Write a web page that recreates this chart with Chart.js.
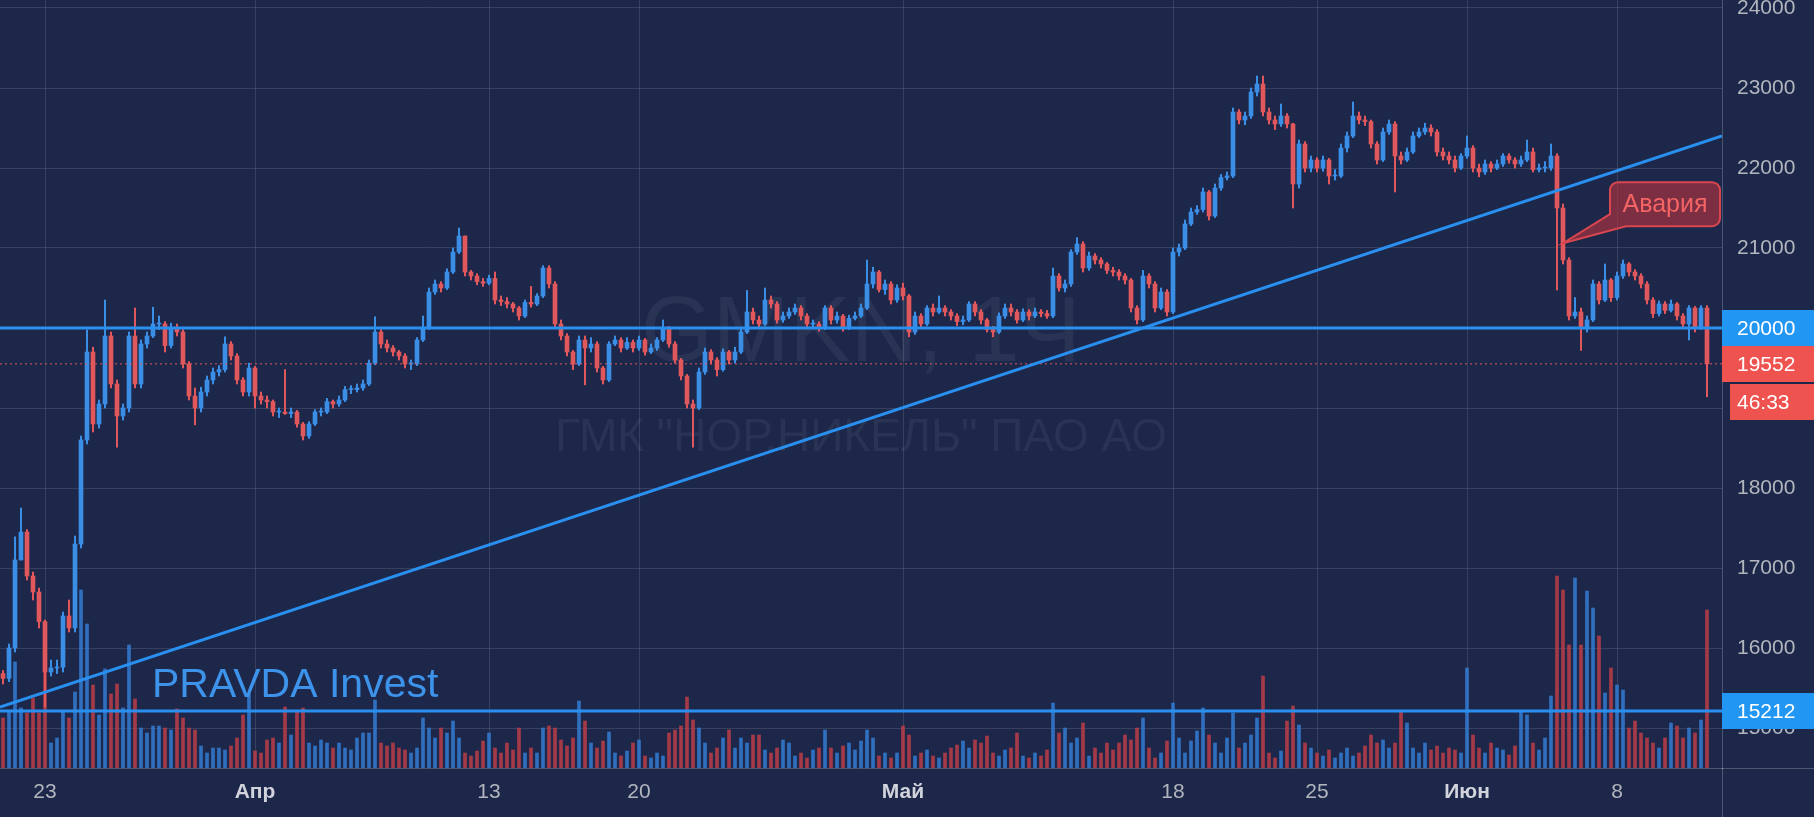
<!DOCTYPE html>
<html>
<head>
<meta charset="utf-8">
<title>GMKN, 1Ч</title>
<script src="https://cdn.jsdelivr.net/npm/chart.js@4.4.1/dist/chart.umd.min.js"></script>
<style>
  html, body { margin: 0; padding: 0; background: #1c2749; }
  canvas { display: block; }
</style>
</head>
<body>
<canvas id="gmknChart" width="1814" height="817"></canvas>
<script>
// ---- data (hourly candles, GMKN) ----
const firstOpen = 15680;

const closes = [
  15620,16000,17100,17450,16900,16700,16330,15700,15750,15760,
  16400,16250,17300,18600,19700,18800,19050,19900,19300,18900,
  19000,19900,19300,19800,19900,20050,20050,19780,20000,19950,
  19550,19150,19000,19200,19350,19450,19480,19800,19650,19350,
  19200,19500,19150,19100,19080,18950,18950,18930,18950,18800,
  18650,18800,18950,18950,19080,19050,19100,19230,19230,19250,
  19300,19560,19950,19800,19750,19700,19650,19550,19550,19850,
  20000,20450,20550,20500,20700,20950,21150,20700,20650,20580,
  20560,20620,20350,20330,20300,20250,20150,20320,20300,20400,
  20750,20550,20050,19900,19700,19550,19850,19750,19800,19500,
  19350,19800,19850,19750,19820,19750,19850,19700,19750,19850,
  20000,19800,19600,19400,19050,19000,19450,19700,19600,19480,
  19700,19600,19700,19950,20200,20100,20050,20350,20300,20100,
  20150,20200,20250,20150,20050,20050,20000,20250,20100,20150,
  20000,20120,20150,20250,20550,20700,20480,20550,20350,20500,
  20400,19950,20150,20050,20250,20200,20250,20200,20150,20080,
  20100,20300,20200,20100,19980,19950,20150,20250,20200,20100,
  20200,20150,20200,20180,20150,20650,20500,20550,20950,21050,
  20750,20900,20850,20800,20720,20700,20650,20600,20250,20100,
  20650,20550,20250,20450,20200,20950,21000,21300,21450,21480,
  21700,21400,21750,21880,21900,22700,22600,22650,22950,23050,
  22700,22600,22550,22650,22550,21800,22300,22000,22100,22000,
  22100,21900,21900,22250,22400,22650,22600,22580,22300,22100,
  22450,22550,22150,22100,22200,22400,22450,22500,22450,22200,
  22150,22100,22000,22150,22250,22000,21950,22050,22000,22050,
  22150,22100,22050,22100,22200,21980,22000,22000,22150,21500,
  20850,20150,20200,20000,20100,20550,20350,20600,20380,20650,
  20800,20700,20650,20550,20350,20180,20300,20220,20300,20150,
  20050,20250,20000,20250,19552
];

const highs = [
  15720,16050,17390,17750,17480,16950,16750,16350,15850,15850,
  16450,16600,17400,18650,19975,19760,19100,20350,19950,19350,
  19050,19950,20250,19850,19950,20260,20150,20080,20060,20050,
  19980,19580,19250,19260,19400,19500,19530,19890,19830,19680,
  19380,19560,19520,19200,19150,19100,19000,19480,19000,18970,
  18820,18830,18980,19000,19120,19100,19150,19270,19280,19300,
  19350,19600,20140,19980,19850,19780,19720,19680,19600,19880,
  20150,20500,20600,20580,20740,21000,21250,21150,20720,20680,
  20620,20660,20700,20400,20380,20320,20270,20350,20520,20430,
  20780,20780,20580,20100,19930,19720,19900,19900,19880,19830,
  19520,19830,19900,19880,19880,19850,19900,19870,19800,19880,
  20100,20020,19830,19620,19420,19100,19500,19750,19730,19630,
  19740,19720,19760,20000,20470,20250,20150,20500,20400,20330,
  20200,20250,20300,20280,20180,20100,20080,20280,20280,20200,
  20170,20160,20200,20300,20850,20760,20720,20600,20580,20540,
  20560,20420,20200,20180,20280,20300,20400,20280,20230,20180,
  20150,20330,20330,20230,20120,20020,20190,20300,20300,20230,
  20240,20230,20250,20230,20220,20750,20680,20600,20980,21130,
  21080,20950,20930,20880,20820,20760,20730,20680,20620,20280,
  20720,20680,20580,20500,20480,21000,21050,21350,21500,21530,
  21750,21720,21800,21920,21950,22750,22730,22700,23000,23150,
  23150,22750,22650,22800,22680,22560,22350,22330,22150,22130,
  22150,22120,21980,22300,22450,22825,22700,22650,22600,22330,
  22500,22600,22580,22200,22250,22450,22500,22560,22540,22480,
  22250,22200,22150,22180,22400,22280,22050,22100,22080,22100,
  22180,22180,22130,22150,22350,22250,22050,22080,22300,22180,
  21550,20880,20380,20250,20150,20600,20580,20800,20620,20700,
  20850,20820,20730,20680,20580,20380,20340,20330,20350,20320,
  20180,20280,20270,20280,20280
];

const lows = [
  15550,15580,15950,17100,16850,16600,16250,15260,15650,15680,
  15700,16200,16200,17250,18550,18700,18750,19000,19250,18510,
  18850,18950,19250,19250,19750,19880,19980,19700,19750,19900,
  19500,19100,18790,18950,19150,19300,19400,19450,19600,19300,
  19150,19150,19000,19050,19000,18900,18880,18920,18880,18760,
  18600,18620,18780,18900,18930,19000,19020,19080,19180,19200,
  19220,19280,19540,19750,19700,19650,19600,19500,19480,19530,
  19830,19980,20420,20450,20480,20680,20930,20650,20600,20540,
  20520,20540,20300,20280,20250,20200,20100,20130,20260,20280,
  20380,20500,20000,19850,19650,19480,19530,19290,19700,19450,
  19300,19330,19780,19700,19730,19700,19720,19660,19680,19720,
  19830,19760,19560,19350,19000,18510,18980,19420,19550,19400,
  19460,19550,19560,19680,19930,20050,20000,20030,20250,20060,
  20070,20120,20170,20100,20000,19990,19960,19980,20050,20060,
  19960,19980,20100,20130,20230,20500,20450,20420,20300,20320,
  20350,19890,19920,20000,20030,20150,20180,20150,20100,20030,
  20040,20080,20150,20050,19950,19890,19930,20120,20150,20060,
  20080,20100,20130,20140,20120,20130,20460,20450,20520,20920,
  20700,20720,20800,20750,20680,20650,20600,20550,20200,20050,
  20080,20500,20200,20230,20150,20180,20900,20980,21280,21420,
  21450,21350,21380,21720,21850,21880,22550,22540,22620,22900,
  22650,22550,22480,22520,22500,21500,21750,21950,21950,21950,
  21960,21800,21850,21880,22200,22380,22550,22530,22250,22050,
  22080,22420,21700,22050,22080,22180,22380,22420,22400,22150,
  22100,22050,21950,21980,22120,21950,21890,21920,21950,21980,
  22020,22060,22000,22020,22080,21950,21950,21950,21970,20475,
  20800,20100,20120,19720,19950,20080,20300,20330,20330,20350,
  20620,20650,20600,20500,20300,20130,20150,20180,20200,20100,
  20000,19850,19950,19980,19140
];

const volumes = [
  50,56,106,60,55,70,55,106,25,30,
  56,50,76,178,144,83,53,99,74,84,
  60,123,69,40,35,42,42,40,38,59,
  50,40,38,22,15,20,20,18,22,30,
  53,74,17,15,28,30,25,61,33,56,
  60,25,22,28,25,20,25,20,18,30,
  35,35,68,25,22,25,20,18,15,20,
  50,40,30,40,35,47,30,15,12,17,
  27,35,20,15,25,18,40,15,20,15,
  40,42,40,28,22,30,67,47,25,20,
  27,36,15,12,17,25,28,12,10,15,
  12,35,38,42,71,48,40,25,15,20,
  30,38,20,30,25,33,33,18,15,20,
  28,25,12,15,10,18,20,38,20,15,
  22,25,18,27,38,30,12,15,10,15,
  42,33,12,15,18,12,10,15,20,23,
  27,20,28,25,32,15,12,18,20,35,
  12,10,15,12,18,65,35,40,25,30,
  45,12,20,15,25,18,25,33,28,40,
  50,20,10,15,27,65,30,15,27,37,
  60,33,25,15,30,55,20,25,33,50,
  92,15,10,17,47,62,43,25,20,15,
  12,18,10,15,20,12,15,22,33,25,
  28,20,25,57,45,20,15,25,18,22,
  15,20,18,15,100,33,20,15,25,20,
  18,13,22,57,53,25,18,30,72,192,
  178,123,190,123,177,160,132,75,100,83,
  78,40,47,35,30,25,20,30,45,42,
  30,40,35,48,158
];

// x axis: slot count and where the date labels sit
const slotCount = 287;
const tickIndex  = [7, 42, 81, 106, 150, 195, 219, 244, 269];
const tickLabels = ['23', 'Апр', '13', '20', 'Май', '18', '25', 'Июн', '8'];
const monthLabels = ['Апр', 'Май', 'Июн'];

// y axis
const priceTicks = [15000, 16000, 17000, 18000, 19000, 20000, 21000, 22000, 23000, 24000];
const yMin = 14500, yMax = 24100;
const volMax = 768;

// drawn levels
const levelHigh = 20000;
const levelLow = 15212;
const lastPrice = 19552;
const timerText = '46:33';
const trendFrom = 15262, trendTo = 22400;
const crashIndex = 260, crashPrice = 21060;
const brandPrice = 15390;

// colours
const BG = '#1c2749';
const GRID = 'rgba(255,255,255,0.12)';
const AXIS = 'rgba(255,255,255,0.22)';
const UP = '#3b8ee6';
const DOWN = '#e0575c';
const VOL_UP = 'rgba(50,125,210,0.85)';
const VOL_DOWN = 'rgba(188,62,72,0.85)';
const LINE = '#2a90f0';
const TICK = '#b2b5be';

Chart.defaults.font.family = "'Liberation Sans', Arial, sans-serif";

const opens = closes.map((c, i) => i === 0 ? firstOpen : closes[i - 1]);
const upFlags = closes.map((c, i) => c >= opens[i]);
const candleColors = upFlags.map(u => u ? UP : DOWN);
const volColors = upFlags.map(u => u ? VOL_UP : VOL_DOWN);

const labels = new Array(slotCount).fill('');
tickIndex.forEach((idx, k) => { labels[idx] = tickLabels[k]; });

const decorations = {
  id: 'decorations',
  beforeDraw(chart) {
    const ctx = chart.ctx;
    ctx.save();
    ctx.fillStyle = BG;
    ctx.fillRect(0, 0, chart.width, chart.height);
    ctx.restore();
  },
  beforeDatasetsDraw(chart) {
    // watermark
    const { ctx, chartArea } = chart;
    const cx = (chartArea.left + chartArea.right) / 2;
    const cy = (chartArea.top + chartArea.bottom) / 2;
    ctx.save();
    ctx.fillStyle = 'rgba(255,255,255,0.06)';
    ctx.textAlign = 'center';
    ctx.textBaseline = 'middle';
    ctx.font = "92px 'Liberation Sans', Arial, sans-serif";
    ctx.fillText('GMKN, 1Ч', cx, cy - 48);
    ctx.font = "46px 'Liberation Sans', Arial, sans-serif";
    ctx.fillText('ГМК "НОР.НИКЕЛЬ" ПАО АО', cx, cy + 54);
    ctx.restore();
  },
  afterDatasetsDraw(chart) {
    const { ctx } = chart;
    const x = chart.scales.x, y = chart.scales.y;
    ctx.save();
    // brand text
    ctx.fillStyle = '#3d92ea';
    ctx.font = "41px 'Liberation Sans', Arial, sans-serif";
    ctx.textAlign = 'left';
    ctx.textBaseline = 'alphabetic';
    ctx.fillText('PRAVDA Invest', 152, y.getPixelForValue(brandPrice));

    // callout "Авария"
    const tx = x.getPixelForValue(crashIndex);
    const ty = y.getPixelForValue(crashPrice);
    const bx = tx + 47, by = ty - 61, bw = 110, bh = 44, r = 8;
    ctx.beginPath();
    ctx.moveTo(bx + r, by);
    ctx.lineTo(bx + bw - r, by);
    ctx.arcTo(bx + bw, by, bx + bw, by + r, r);
    ctx.lineTo(bx + bw, by + bh - r);
    ctx.arcTo(bx + bw, by + bh, bx + bw - r, by + bh, r);
    ctx.lineTo(bx + 16, by + bh);
    ctx.lineTo(tx, ty);
    ctx.lineTo(bx, by + bh - 12);
    ctx.lineTo(bx, by + r);
    ctx.arcTo(bx, by, bx + r, by, r);
    ctx.closePath();
    ctx.fillStyle = 'rgba(170,50,64,0.68)';
    ctx.fill();
    ctx.lineWidth = 2;
    ctx.strokeStyle = '#d8464f';
    ctx.stroke();
    ctx.fillStyle = '#f46464';
    ctx.font = "25px 'Liberation Sans', Arial, sans-serif";
    ctx.textAlign = 'center';
    ctx.textBaseline = 'middle';
    ctx.fillText('Авария', bx + bw / 2, by + bh / 2 + 1);
    ctx.restore();
  },
  afterDraw(chart) {
    const { ctx, chartArea } = chart;
    const y = chart.scales.y;
    const W = chart.width;
    ctx.save();
    // axis separators running to the canvas edges
    ctx.strokeStyle = AXIS;
    ctx.lineWidth = 1;
    ctx.beginPath();
    ctx.moveTo(chartArea.right + 0.5, chartArea.bottom);
    ctx.lineTo(chartArea.right + 0.5, chart.height);
    ctx.moveTo(chartArea.right, chartArea.bottom + 0.5);
    ctx.lineTo(W, chartArea.bottom + 0.5);
    ctx.stroke();

    const box = (yc, left, color, text) => {
      ctx.fillStyle = color;
      ctx.fillRect(left, Math.round(yc - 18), W - left, 36);
      ctx.fillStyle = '#ffffff';
      ctx.font = "21px 'Liberation Sans', Arial, sans-serif";
      ctx.textAlign = 'left';
      ctx.textBaseline = 'middle';
      ctx.fillText(text, chartArea.right + 15, yc + 1);
    };
    const yHigh = y.getPixelForValue(levelHigh);
    const yLast = y.getPixelForValue(lastPrice);
    box(yHigh, chartArea.right, '#2196f3', String(levelHigh));
    box(yLast, chartArea.right, '#ef5350', String(lastPrice));
    box(yLast + 38, chartArea.right + 8, '#ef5350', timerText);
    box(y.getPixelForValue(levelLow), chartArea.right, '#2196f3', String(levelLow));
    ctx.restore();
  }
};

const hLine = (value, extra) => Object.assign({
  type: 'line',
  xAxisID: 'xl',
  yAxisID: 'y',
  data: [{ x: 0, y: value }, { x: 1, y: value }],
  borderColor: LINE,
  borderWidth: 3,
  pointRadius: 0,
  order: 0
}, extra || {});

new Chart(document.getElementById('gmknChart'), {
  type: 'bar',
  data: {
    labels: labels,
    datasets: [
      hLine(levelHigh),
      hLine(levelLow),
      {
        type: 'line', xAxisID: 'xl', yAxisID: 'y',
        data: [{ x: 0, y: trendFrom }, { x: 1, y: trendTo }],
        borderColor: LINE, borderWidth: 3, pointRadius: 0, order: 0
      },
      hLine(lastPrice, { borderColor: DOWN, borderWidth: 1, borderDash: [2, 3], order: 0 }),
      {
        label: 'body',
        data: closes.map((c, i) => [opens[i], c]),
        backgroundColor: candleColors,
        barThickness: 4,
        minBarLength: 1,
        grouped: false,
        order: 1
      },
      {
        label: 'wick',
        data: highs.map((h, i) => [Math.min(lows[i], opens[i], closes[i]), Math.max(h, opens[i], closes[i])]),
        backgroundColor: candleColors,
        barThickness: 1.4,
        grouped: false,
        order: 2
      },
      {
        label: 'volume',
        yAxisID: 'yv',
        data: volumes,
        backgroundColor: volColors,
        barThickness: 3,
        grouped: false,
        order: 3
      }
    ]
  },
  options: {
    responsive: false,
    animation: false,
    devicePixelRatio: 1,
    layout: { padding: 0 },
    plugins: {
      legend: { display: false },
      tooltip: { enabled: false }
    },
    scales: {
      x: {
        type: 'category',
        offset: true,
        grid: {
          offset: false,
          drawTicks: false,
          color: ctx => (ctx.tick && ctx.tick.label) ? GRID : 'rgba(0,0,0,0)'
        },
        border: { display: true, color: AXIS },
        ticks: {
          autoSkip: false,
          maxRotation: 0,
          padding: 12,
          color: ctx => monthLabels.includes(ctx.tick && ctx.tick.label) ? '#d1d4dc' : TICK,
          font: ctx => ({
            size: 21,
            weight: monthLabels.includes(ctx.tick && ctx.tick.label) ? 'bold' : 'normal'
          })
        },
        afterFit: s => { s.height = 49; s.paddingLeft = 0; s.paddingRight = 0; }
      },
      xl: { type: 'linear', display: false, offset: false, min: 0, max: 1, grid: { offset: false } },
      y: {
        type: 'linear',
        position: 'right',
        min: yMin,
        max: yMax,
        afterBuildTicks: s => { s.ticks = priceTicks.map(v => ({ value: v })); },
        grid: { color: GRID, drawTicks: false },
        border: { display: true, color: AXIS },
        ticks: {
          color: TICK,
          padding: 15,
          font: { size: 21 },
          callback: v => String(v)
        },
        afterFit: s => { s.width = 92; s.paddingTop = 0; s.paddingBottom = 0; }
      },
      yv: { type: 'linear', display: false, min: 0, max: volMax }
    }
  },
  plugins: [decorations]
});
</script>
</body>
</html>
